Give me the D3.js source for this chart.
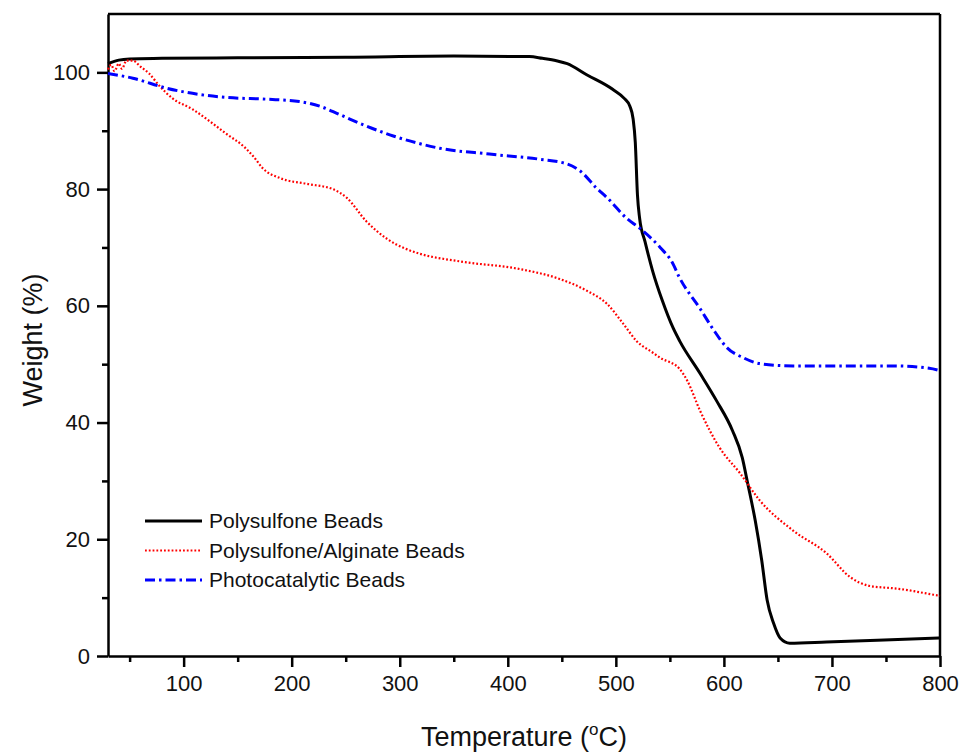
<!DOCTYPE html>
<html>
<head>
<meta charset="utf-8">
<script src="https://cdn.jsdelivr.net/npm/d3@7"></script>
<style>
  body { margin: 0; background: #fff; }
  svg { display: block; font-family: Arial, "Liberation Sans", sans-serif; }
</style>
</head>
<body>
<svg id="chart" width="964" height="756"></svg>
<script>
// temperature (°C), weight (%)
const polysulfone = [
  [30, 101.5], [40, 102.1], [50, 102.3], [80, 102.4], [150, 102.5], [250, 102.6],
  [350, 102.8], [420, 102.7], [432, 102.4], [445, 102], [455, 101.5], [473, 99.6],
  [497, 97.1], [508, 95.5], [513, 94.2], [516, 92], [518, 88], [520, 79], [522, 75],
  [527, 71], [534, 66], [543, 60.9], [553, 56.2], [559, 54], [578, 48.4], [593, 43.8],
  [608, 38.6], [617, 34], [622, 29.6], [629, 23.2], [635, 16.4], [640, 9.6], [646, 5.6],
  [652, 3.1], [661, 2.2], [695, 2.4], [742, 2.7], [800, 3.1]
];
const alginate = [
  [30, 100.5], [33, 101.3], [36, 100.2], [40, 101.5], [43, 100.6], [47, 102], [53, 102],
  [60, 101], [68, 99.8], [78, 97.6], [90, 95.5], [108, 93.7], [125, 91.5], [140, 89.4],
  [155, 87.4], [165, 85.5], [173, 83.6], [189, 81.9], [214, 80.9], [238, 80], [251, 78.5],
  [269, 74.5], [288, 71.5], [305, 69.8], [319, 68.9], [356, 67.6], [411, 66.3], [448, 64.6],
  [473, 62.6], [492, 60.3], [507, 56.9], [519, 54], [534, 52], [541, 51.1], [559, 49.2],
  [566, 47.2], [578, 42], [596, 35.7], [615, 31.3], [633, 26.7], [664, 21.5], [695, 17.6],
  [717, 13.5], [735, 12], [757, 11.6], [770, 11.3], [779, 11], [800, 10.3]
];
const photocatalytic = [
  [30, 99.8], [53, 99], [84, 97.3], [115, 96.2], [140, 95.7], [177, 95.4], [207, 95],
  [226, 94.2], [244, 92.8], [269, 90.8], [294, 89.1], [316, 87.9], [337, 87], [383, 86],
  [430, 85.1], [455, 84.3], [467, 83.1], [482, 80.2], [492, 78.5], [510, 75], [522, 73.3],
  [541, 70], [552, 67.5], [559, 64.8], [578, 59.5], [590, 56], [603, 52.8], [618, 51.1],
  [633, 50.1], [664, 49.7], [757, 49.7], [790, 49.3], [800, 48.9]
];
const seriesNames = ['Polysulfone Beads', 'Polysulfone/Alginate Beads', 'Photocatalytic Beads'];
const xTicks = [100, 200, 300, 400, 500, 600, 700, 800];
const yTicks = [0, 20, 40, 60, 80, 100];

const margin = { top: 14, right: 24, bottom: 100, left: 108 },
  width = 964,
  height = 756;

const svg = d3.select('#chart');

const x = d3.scaleLinear().domain([30, 800]).range([margin.left, width - margin.right]);
const y = d3.scaleLinear().domain([0, 110]).range([height - margin.bottom, margin.top]);

const styles = [
  { color: '#000', width: 3, dash: null },
  { color: '#ff0000', width: 2.2, dash: '1.8,2' },
  { color: '#0000ff', width: 3, dash: '10,4,2.5,4' }
];

// minor ticks
svg.append('g')
  .attr('transform', `translate(0,${height - margin.bottom})`)
  .call(d3.axisBottom(x).tickValues(d3.range(50, 800, 100)).tickSize(6).tickFormat(''))
  .call(g => g.select('.domain').remove())
  .selectAll('line').attr('stroke-width', 2.5);

svg.append('g')
  .attr('transform', `translate(${margin.left},0)`)
  .call(d3.axisLeft(y).tickValues(d3.range(10, 110, 20)).tickSize(6).tickFormat(''))
  .call(g => g.select('.domain').remove())
  .selectAll('line').attr('stroke-width', 2.5);

// main axes
svg.append('g')
  .attr('transform', `translate(0,${height - margin.bottom})`)
  .call(d3.axisBottom(x).tickValues(xTicks).tickSize(11).tickPadding(8).tickSizeOuter(0))
  .call(g => g.select('.domain').attr('stroke-width', 2.5))
  .call(g => g.selectAll('line').attr('stroke-width', 2.5))
  .selectAll('text').attr('font-size', 22).attr('fill', '#111');

svg.append('g')
  .attr('transform', `translate(${margin.left},0)`)
  .call(d3.axisLeft(y).tickValues(yTicks).tickSize(11).tickPadding(7).tickSizeOuter(0))
  .call(g => g.select('.domain').attr('stroke-width', 2.5))
  .call(g => g.selectAll('line').attr('stroke-width', 2.5))
  .selectAll('text').attr('font-size', 22).attr('fill', '#111');

// top and right frame
svg.append('line')
  .attr('x1', x(30)).attr('x2', x(800)).attr('y1', y(110)).attr('y2', y(110))
  .attr('stroke', '#000').attr('stroke-width', 2.5);
svg.append('line')
  .attr('x1', x(800)).attr('x2', x(800)).attr('y1', y(110)).attr('y2', y(0))
  .attr('stroke', '#000').attr('stroke-width', 2.5);

const line = d3.line()
  .curve(d3.curveMonotoneX)
  .x(d => x(d[0]))
  .y(d => y(d[1]));

[polysulfone, alginate, photocatalytic].forEach((data, i) => {
  svg.append('path')
    .datum(data)
    .attr('fill', 'none')
    .attr('stroke', styles[i].color)
    .attr('stroke-width', styles[i].width)
    .attr('stroke-dasharray', styles[i].dash)
    .attr('d', line);
});

// legend
const legend = svg.append('g').attr('transform', 'translate(145,521)');
seriesNames.forEach((name, i) => {
  const row = legend.append('g').attr('transform', `translate(0,${i * 29.5})`);
  row.append('line')
    .attr('x1', 0).attr('x2', 57)
    .attr('stroke', styles[i].color)
    .attr('stroke-width', styles[i].width)
    .attr('stroke-dasharray', styles[i].dash);
  row.append('text')
    .attr('x', 64).attr('dy', '0.35em')
    .attr('font-size', 21).attr('fill', '#111')
    .text(name);
});

// axis titles
svg.append('text')
  .attr('transform', `translate(42,340) rotate(-90)`)
  .attr('text-anchor', 'middle')
  .attr('font-size', 27).attr('fill', '#111')
  .text('Weight (%)');

const xt = svg.append('text')
  .attr('x', 524).attr('y', 746)
  .attr('text-anchor', 'middle')
  .attr('font-size', 27).attr('fill', '#111');
xt.append('tspan').text('Temperature (');
xt.append('tspan').attr('dy', -11).attr('font-size', 17).text('o');
xt.append('tspan').attr('dy', 11).text('C)');
</script>
</body>
</html>
